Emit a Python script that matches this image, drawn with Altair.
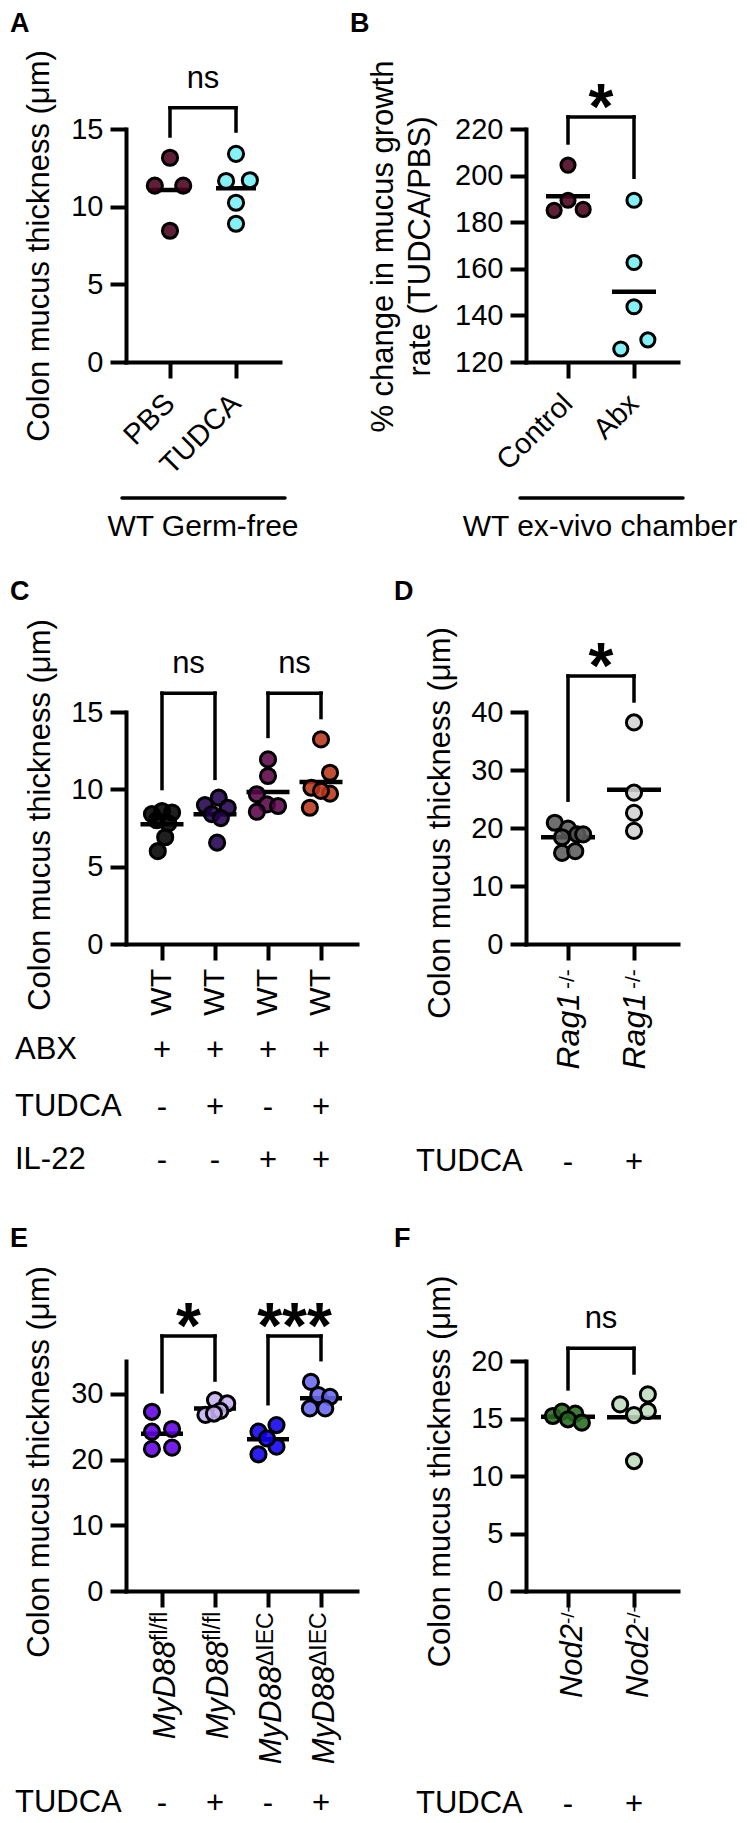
import altair as alt
import pandas as pd

FONT = "Liberation Sans"
INK = "#000000"

# ---------------- values ----------------
# Panel A - WT germ-free
A_groups = ["PBS", "TUDCA"]
A_values = [[13.15, 11.35, 11.35, 8.45],
            [13.4, 11.65, 11.7, 10.25, 8.9]]
A_spread = [[0.0, -0.23, 0.20, 0.0],
            [0.0, -0.15, 0.21, 0.0, 0.0]]
A_colors = ["#4a001c", "#72eff4"]
A_brackets = [(1, 2, 16.36, 14.55, 14.87, "ns")]

# Panel B - WT ex-vivo chamber
B_groups = ["Control", "Abx"]
B_values = [[204.5, 189.4, 185.1, 185.5],
            [189.4, 162.7, 143.7, 129.5, 125.6]]
B_spread = [[0.0, 0.0, -0.21, 0.23],
            [0.0, 0.0, 0.0, 0.21, -0.20]]
B_colors = ["#4a001c", "#72eff4"]
B_brackets = [(1, 2, 225.2, 214.0, 199.3, "*")]

# Panel C - WT with ABX / TUDCA / IL-22
C_groups = ["ABX", "ABX+TUDCA", "ABX+IL-22", "ABX+TUDCA+IL-22"]
C_ticklabels = ["WT", "WT", "WT", "WT"]
C_values = [[8.4, 8.6, 8.5, 8.0, 7.8, 6.9, 6.0],
            [9.46, 8.98, 8.81, 8.4, 8.14, 6.55],
            [11.94, 10.86, 9.68, 9.03, 8.92, 8.55],
            [13.23, 11.07, 10.1, 9.72, 8.81, 9.9]]
C_spread = [[-0.19, 0.0, 0.19, -0.10, 0.12, 0.06, -0.08],
            [0.07, -0.19, 0.24, -0.06, 0.11, 0.04],
            [0.0, 0.0, -0.21, -0.02, 0.19, -0.21],
            [0.0, 0.17, -0.18, 0.17, -0.21, 0.0]]
C_colors = ["#000000", "#22004f", "#5a044a", "#bc3519"]
C_brackets = [(1, 2, 16.22, 10.05, 10.71, "ns"), (3, 4, 16.22, 13.42, 14.64, "ns")]
C_rows = ["ABX", "TUDCA", "IL-22"]
C_signs = [["+", "+", "+", "+"], ["-", "+", "-", "+"], ["-", "-", "+", "+"]]

# Panel D - Rag1-/-
D_groups = ["Rag1 vehicle", "Rag1 TUDCA"]
D_ticklabels = ["Rag1", "Rag1"]
D_sup = ["-/-", "-/-"]
D_values = [[20.9, 19.9, 18.9, 18.9, 18.4, 15.7, 16.0],
            [38.2, 26.1, 22.6, 19.5]]
D_spread = [[-0.20, 0.0, 0.14, 0.23, -0.09, -0.09, 0.11],
            [0.0, 0.0, 0.0, 0.0]]
D_colors = ["#5b5b5b", "#d3d3d3"]
D_brackets = [(1, 2, 46.2, 24.8, 41.9, "*")]
D_signs = ["-", "+"]

# Panel E - MyD88
E_groups = ["fl/fl vehicle", "fl/fl TUDCA", "dIEC vehicle", "dIEC TUDCA"]
E_ticklabels = ["MyD88", "MyD88", "MyD88", "MyD88"]
E_sup = ["fl/fl", "fl/fl", "ΔIEC", "ΔIEC"]
E_values = [[27.27, 24.24, 24.65, 21.62, 21.82],
            [29.05, 28.54, 26.8, 27.4, 27.0],
            [24.24, 25.25, 21.97, 20.8, 23.23],
            [31.82, 29.8, 29.55, 27.78, 27.78]]
E_spread = [[-0.19, -0.19, 0.19, -0.19, 0.19],
            [0.0, 0.23, -0.18, 0.10, -0.02],
            [-0.18, 0.16, 0.16, -0.18, -0.02],
            [-0.19, -0.05, 0.17, -0.21, 0.08]]
E_colors = ["#6000e5", "#c6aff2", "#0f00f1", "#6666f0"]
E_brackets = [(1, 2, 38.8, 30.3, 32.1, "*"), (3, 4, 38.8, 28.5, 35.2, "***")]
E_signs = ["-", "+", "-", "+"]

# Panel F - Nod2-/-
F_groups = ["Nod2 vehicle", "Nod2 TUDCA"]
F_ticklabels = ["Nod2", "Nod2"]
F_sup = ["-/-", "-/-"]
F_values = [[15.22, 15.6, 15.42, 14.93, 14.64],
            [16.23, 17.1, 15.65, 15.3, 11.3]]
F_spread = [[-0.23, -0.09, 0.11, 0.0, 0.21],
            [-0.21, 0.21, 0.21, 0.0, 0.0]]
F_colors = ["#256a1f", "#bddcbd"]
F_brackets = [(1, 2, 21.1, 17.57, 18.96, "ns")]
F_signs = ["-", "+"]

TITLE = "Colon mucus thickness (μm)"
ONE = pd.DataFrame({"k": [0]})


def points_frame(groups, values, spread):
    rows = []
    for i, g in enumerate(groups):
        for v, s in zip(values[i], spread[i]):
            rows.append({"group": g, "gx": i + 1, "spread": s, "value": v})
    return pd.DataFrame(rows)


def build(p):
    n = len(p["groups"])
    W, H = p["width"], p["height"]
    xs = alt.Scale(domain=p["xdom"], nice=False, zero=False)
    ys = alt.Scale(domain=p["ydom"], nice=False, zero=False, range=[H, H - p["axis_len"]])

    # other layers share the scales; the axes are defined once on the dot layer
    def X(f):
        return alt.X(f, scale=xs)

    def Y(f):
        return alt.Y(f, scale=ys)

    ax_kw = dict(values=p["yticks"], title=p["title"], titleX=p["title_x"], titleY=p["title_y"],
                 titleAngle=270, titleAlign="center", titleBaseline="alphabetic")
    if p.get("title_lh"):
        ax_kw["titleLineHeight"] = p["title_lh"]

    df = points_frame(p["groups"], p["values"], p["spread"])
    layers = []
    layers.append(
        alt.Chart(df).mark_tick(orient="horizontal", size=p["mean_len"], thickness=4.5, color=INK, opacity=1)
        .encode(x=X("gx:Q"), y=Y("mean(value):Q"))
    )
    layers.append(
        alt.Chart(df).transform_calculate(xpos="datum.gx + datum.spread")
        .mark_circle(size=p.get("dot", 230), stroke=INK, strokeWidth=3, opacity=1, fillOpacity=0.88)
        .encode(
            x=alt.X("xpos:Q", scale=xs, axis=alt.Axis(values=list(range(1, n + 1)), labels=False, title=None)),
            y=alt.Y("value:Q", scale=ys, axis=alt.Axis(**ax_kw)),
            color=alt.Color("group:N", scale=alt.Scale(domain=p["groups"], range=p["colors"]), legend=None),
        )
    )

    # significance brackets
    bdf = pd.DataFrame(p["brackets"], columns=["g1", "g2", "top", "l1", "l2", "lab"])
    rule = dict(color=INK, strokeWidth=3.5, strokeCap="square")
    layers.append(alt.Chart(bdf).mark_rule(**rule).encode(x=X("g1:Q"), x2="g2:Q", y=Y("top:Q")))
    layers.append(alt.Chart(bdf).mark_rule(**rule).encode(x=X("g1:Q"), y=Y("top:Q"), y2="l1:Q"))
    layers.append(alt.Chart(bdf).mark_rule(**rule).encode(x=X("g2:Q"), y=Y("top:Q"), y2="l2:Q"))
    for is_ns, style in [(True, dict(fontSize=31, dy=-20)),
                         (False, dict(fontSize=64, fontWeight="bold", dy=12))]:
        sub = bdf[(bdf.lab == "ns") == is_ns]
        if len(sub):
            layers.append(
                alt.Chart(sub).transform_calculate(mid="(datum.g1 + datum.g2) / 2")
                .mark_text(font=FONT, color=INK, baseline="alphabetic", align="center", **style)
                .encode(x=X("mid:Q"), y=Y("top:Q"), text="lab:N")
            )

    # category labels under the x axis
    for lab in p["xlabels"]:
        for i, t in enumerate(lab["texts"]):
            off = lab["off"][i] if isinstance(lab["off"], list) else lab["off"]
            style = {k: v for k, v in lab.items() if k not in ("texts", "off")}
            ldf = pd.DataFrame({"gx": [i + 1], "t": [t]})
            layers.append(
                alt.Chart(ldf).mark_text(font=FONT, color=INK, **style)
                .encode(x=X("gx:Q"), y=alt.value(H + off), text="t:N")
            )

    # treatment table
    for name, signs, off, lx in p.get("rows", []):
        layers.append(
            alt.Chart(ONE).mark_text(text=name, font=FONT, fontSize=31, align="left",
                                     baseline="alphabetic", color=INK)
            .encode(x=alt.value(lx), y=alt.value(H + off))
        )
        sdf = pd.DataFrame({"gx": list(range(1, n + 1)), "s": signs})
        layers.append(
            alt.Chart(sdf).mark_text(font=FONT, fontSize=31, align="center", baseline="alphabetic",
                                     dy=1, color=INK)
            .encode(x=X("gx:Q"), y=alt.value(H + off), text="s:N")
        )

    # group caption with underline
    if "caption" in p:
        text, x1, x2, loff, tx, toff = p["caption"]
        layers.append(
            alt.Chart(ONE).mark_rule(color=INK, strokeWidth=3.5, strokeCap="round")
            .encode(x=alt.value(x1), x2=alt.value(x2), y=alt.value(H + loff))
        )
        layers.append(
            alt.Chart(ONE).mark_text(text=text, font=FONT, fontSize=30, align="center",
                                     baseline="alphabetic", color=INK)
            .encode(x=alt.value(tx), y=alt.value(H + toff))
        )

    lx, ly = p["letter_xy"]
    layers.append(
        alt.Chart(ONE).mark_text(text=p["letter"], font=FONT, fontSize=27, fontWeight="bold",
                                 align="left", baseline="top", color=INK)
        .encode(x=alt.value(lx), y=alt.value(ly))
    )
    return alt.layer(*layers).properties(width=W, height=H)


two_dom = [1 - 42 / 66, 2 + 44 / 66]
four_dom = [1 - 36 / 53, 4 + 36 / 53]
rot45 = dict(angle=315, align="right", baseline="middle", fontSize=29, off=37)

A = build(dict(
    groups=A_groups, values=A_values, spread=A_spread, colors=A_colors, brackets=A_brackets,
    width=154, height=233, axis_len=233, xdom=[1 - 44 / 66, 2 + 44 / 66], ydom=[0, 15],
    yticks=[0, 5, 10, 15], title=TITLE, title_x=-78, title_y=116.5, mean_len=40,
    xlabels=[dict(texts=A_groups, **rot45)],
    caption=("WT Germ-free", -4, 159, 136, 77, 174),
    letter="A", letter_xy=(-116, -118),
))

B = build(dict(
    groups=B_groups, values=B_values, spread=B_spread, colors=B_colors, brackets=B_brackets,
    width=152, height=233, axis_len=233, xdom=two_dom, ydom=[120, 220],
    yticks=[120, 140, 160, 180, 200, 220],
    title=["% change in mucus growth", "rate (TUDCA/PBS)"], title_x=-134, title_y=117, title_lh=37,
    mean_len=44, dot=200,
    xlabels=[dict(texts=B_groups, **rot45)],
    caption=("WT ex-vivo chamber", -6, 157, 136, 74, 174),
    letter="B", letter_xy=(-176, -118),
))

C = build(dict(
    groups=C_groups, values=C_values, spread=C_spread, colors=C_colors, brackets=C_brackets,
    width=231, height=232, axis_len=232, xdom=four_dom, ydom=[0, 15],
    yticks=[0, 5, 10, 15], title=TITLE, title_x=-77, title_y=102.5, mean_len=43,
    xlabels=[dict(texts=C_ticklabels, angle=270, align="right", baseline="middle", fontSize=30, off=25)],
    rows=[(C_rows[0], C_signs[0], 115, -111), (C_rows[1], C_signs[1], 172, -111),
          (C_rows[2], C_signs[2], 225, -111)],
    letter="C", letter_xy=(-116, -133),
))

D = build(dict(
    groups=D_groups, values=D_values, spread=D_spread, colors=D_colors, brackets=D_brackets,
    width=152, height=232, axis_len=232, xdom=two_dom, ydom=[0, 40],
    yticks=[0, 10, 20, 30, 40], title=TITLE, title_x=-77, title_y=110.5, mean_len=54,
    xlabels=[dict(texts=D_ticklabels, angle=270, align="right", baseline="alphabetic", fontSize=32,
                  fontStyle="italic", dy=11, off=49),
             dict(texts=D_sup, angle=270, align="left", baseline="alphabetic", fontSize=21, dx=4, dy=6,
                  off=49)],
    rows=[("TUDCA", D_signs, 227, -110)],
    letter="D", letter_xy=(-132, -133),
))

E = build(dict(
    groups=E_groups, values=E_values, spread=E_spread, colors=E_colors, brackets=E_brackets,
    width=231, height=297, axis_len=230, xdom=four_dom, ydom=[0, 35],
    yticks=[0, 10, 20, 30], title=TITLE, title_x=-78, title_y=167.5, mean_len=42,
    xlabels=[dict(texts=E_ticklabels, angle=270, align="right", baseline="alphabetic", fontSize=31,
                  fontStyle="italic", dy=13, off=[50, 50, 75, 75]),
             dict(texts=E_sup, angle=270, align="left", baseline="alphabetic", fontSize=23, dy=5,
                  off=[50, 50, 75, 75])],
    rows=[("TUDCA", E_signs, 221, -111)],
    letter="E", letter_xy=(-116, -68),
))

F = build(dict(
    groups=F_groups, values=F_values, spread=F_spread, colors=F_colors, brackets=F_brackets,
    width=152, height=297, axis_len=230, xdom=two_dom, ydom=[0, 20],
    yticks=[0, 5, 10, 15, 20], title=TITLE, title_x=-77, title_y=177, mean_len=54,
    xlabels=[dict(texts=F_ticklabels, angle=270, align="right", baseline="alphabetic", fontSize=31,
                  fontStyle="italic", dy=14, off=33),
             dict(texts=F_sup, angle=270, align="left", baseline="alphabetic", fontSize=19, dy=6, off=33)],
    rows=[("TUDCA", F_signs, 222, -110)],
    letter="F", letter_xy=(-132, -68),
))

chart = (
    alt.concat(A, B, C, D, E, F, columns=2, spacing={"row": 350, "column": 169},
               bounds="flush", align="each")
    .resolve_scale(color="independent")
    .properties(padding={"left": 2, "top": 2, "right": 0, "bottom": 0})
    .configure_view(stroke=None)
    .configure_axis(
        grid=False, domainColor=INK, domainWidth=4, domainCap="square",
        tickColor=INK, tickWidth=4, tickSize=16,
        labelFont=FONT, labelFontSize=29, labelColor=INK, labelPadding=7, labelFlush=False,
        titleFont=FONT, titleFontSize=31, titleFontWeight="normal", titleColor=INK,
    )
)

chart.save("out.html", embed_options={"renderer": "svg", "actions": False})
